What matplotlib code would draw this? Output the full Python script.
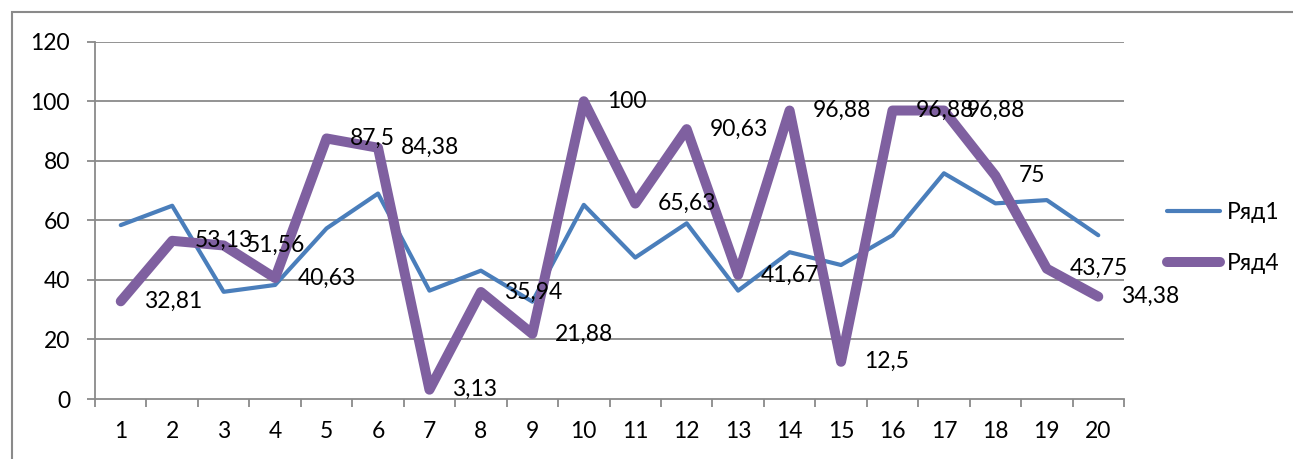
import matplotlib
import matplotlib.pyplot as plt
from matplotlib.patches import Rectangle

matplotlib.use("Agg")

# Data
categories = list(range(1, 21))
row1 = [58.4, 64.9, 36.0, 38.3, 57.3, 69.0, 36.4, 43.1, 32.7, 65.2,
        47.5, 59.0, 36.4, 49.3, 45.0, 55.0, 75.8, 65.7, 66.8, 55.0]
row4 = [32.81, 53.13, 51.56, 40.63, 87.5, 84.38, 3.13, 35.94, 21.88, 100,
        65.63, 90.63, 41.67, 96.88, 12.5, 96.88, 96.88, 75, 43.75, 34.38]
series_names = ["Ряд1", "Ряд4"]
y_ticks = [0, 20, 40, 60, 80, 100, 120]

plt.rcParams["font.family"] = ["Lato", "DejaVu Sans"]
FS = 16.5

fig = plt.figure(figsize=(12.93, 4.59), dpi=100)
ax = fig.add_axes([0.0735, 0.1307, 0.7958, 0.7785])

# Outer chart border (only top and left visible in the crop)
fig.patches.append(Rectangle((12 / 1293, -0.1), 1.2, 1 - 12 / 459 + 0.1,
                             transform=fig.transFigure, fill=False,
                             edgecolor="#8a8a8a", linewidth=1.5))

grid_color = "#8a8a8a"
for y in y_ticks[1:]:
    ax.axhline(y, color=grid_color, linewidth=1.3, zorder=1)

ax.plot(categories, row1, color="#4A7EBB", linewidth=3.0, label=series_names[0],
        solid_capstyle="round", solid_joinstyle="round", zorder=3)
ax.plot(categories, row4, color="#7F60A0", linewidth=7.2, label=series_names[1],
        solid_capstyle="round", solid_joinstyle="round", zorder=4)

# Data labels for Ряд4, placed to the right of each point
for x, v in zip(categories, row4):
    txt = f"{v:g}".replace(".", ",")
    ax.annotate(txt, (x, v), xytext=(16.5, 0), textcoords="offset points",
                ha="left", va="center", fontsize=FS, color="black", zorder=5)

ax.set_xlim(0.5, 20.5)
ax.set_ylim(0, 120)
ax.set_yticks(y_ticks)
ax.set_xticks(categories)
ax.set_xticks([c + 0.5 for c in [0] + categories], minor=True)

ax.tick_params(axis="x", which="major", length=0, pad=16, labelsize=FS)
ax.tick_params(axis="x", which="minor", length=6, width=1.3, color=grid_color)
ax.tick_params(axis="y", length=6, width=1.3, color=grid_color, pad=12, labelsize=FS)

for side in ["top", "right"]:
    ax.spines[side].set_visible(False)
for side in ["left", "bottom"]:
    ax.spines[side].set_color(grid_color)
    ax.spines[side].set_linewidth(1.3)
    ax.spines[side].set_zorder(2)

ax.legend(loc="center left", bbox_to_anchor=(1.033, 0.45), frameon=False,
          handlelength=2.3, fontsize=FS, borderaxespad=0, labelspacing=1.3,
          handletextpad=0.3)

fig.savefig("out.png", dpi=100)
